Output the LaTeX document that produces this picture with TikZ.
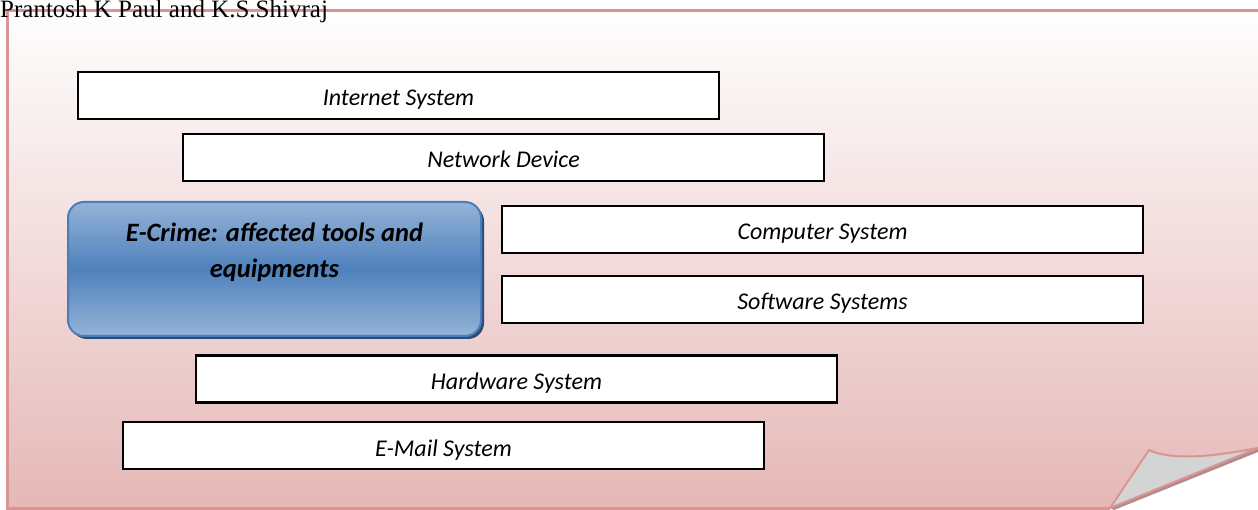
\documentclass[tikz,border=0pt]{standalone}
\usepackage{fontspec}
\setmainfont{Carlito}
\newfontfamily\serifauthor{Liberation Serif}
\usetikzlibrary{positioning}
\definecolor{frameline}{HTML}{D99594}
\definecolor{pagetop}{HTML}{FEFEFE}
\definecolor{pagebot}{HTML}{E5B8B7}
\definecolor{bluelight}{HTML}{95B3D7}
\definecolor{bluedark}{HTML}{4F81BD}
\definecolor{blueedge}{HTML}{4A7EBB}
\definecolor{blueshadow}{HTML}{2C4D75}
\definecolor{flapgray}{HTML}{D4D4D4}
\definecolor{flapshadow}{HTML}{B48A8A}
\tikzset{
  itembox/.style={draw=black, line width=2.2pt, fill=white, minimum width=641pt, minimum height=47pt, inner sep=0pt, text height=21pt, text depth=0pt, font=\fontsize{24}{26}\selectfont\itshape},
  mainbox/.style={draw=blueedge, line width=2pt, rounded corners=16pt, minimum width=413pt, minimum height=134pt, inner sep=0pt, top color=bluelight, bottom color=bluelight, middle color=bluedark},
}
\begin{document}
\begin{tikzpicture}[x=1pt,y=-1pt]
\useasboundingbox (0,0) rectangle (1258,510);
\clip (0,0) rectangle (1258,510);
% page
\path[top color=pagetop, bottom color=pagebot] (7.5,11) -- (1265,11) -- (1265,448) -- (1258,448) -- (1110,508) -- (7.5,508) -- cycle;
\draw[frameline, line width=3pt] (1265,11) -- (7.5,11) -- (7.5,508) -- (1110,508);
% fold shadow and flap
\fill[flapshadow] (1110,508) -- (1258,448) -- (1258,452) -- (1114,510) -- cycle;
\draw[frameline, line width=2pt, fill=flapgray, line join=round] (1110,508) -- (1149,450) .. controls (1175,462) and (1220,455) .. (1258,448) -- cycle;
% author
\node[anchor=base west, inner sep=0pt, font=\serifauthor\fontsize{25}{26}\selectfont] (author) at (0,17.5) {Prantosh K Paul and K.S.Shivraj};
% boxes
\node[itembox] (internet) at (398.5,95.5) {Internet System};
\node[itembox] (network) at (503.5,157.5) {Network Device};
\node[itembox] (computer) at (822.5,229.5) {Computer System};
\node[itembox] (software) at (822.5,299.5) {Software Systems};
\node[itembox] (hardware) at (516.5,379) {Hardware System};
\node[itembox] (email) at (443.5,445.5) {E-Mail System};
% main box
\fill[blueshadow, rounded corners=16pt] (71,205) rectangle (484,339);
\node[mainbox] (main) at (274.5,269) {};
\node[align=center, font=\fontsize{26.5}{36}\selectfont\bfseries\itshape, inner sep=0pt, anchor=base] (maintext) at (274.5,278) {E-Crime: affected tools and\\equipments};
\end{tikzpicture}
\end{document}
